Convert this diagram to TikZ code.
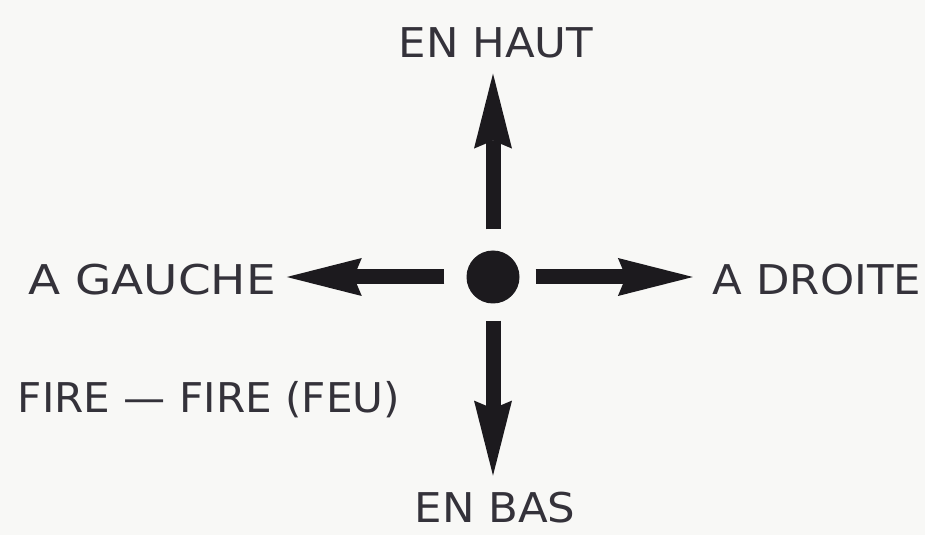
\documentclass[tikz,border=0pt]{standalone}
\usepackage{fontspec}
\setmainfont{DejaVu Sans}
\usepackage{tikz}
\usetikzlibrary{arrows.meta, positioning}

\definecolor{paper}{RGB}{248,248,246}
\definecolor{ink}{RGB}{28,26,30}
\definecolor{txt}{RGB}{52,50,58}

\tikzset{
  lbl/.style={inner sep=0pt, outer sep=0pt, anchor=base, text=txt, xscale=1.06, transform shape,
    font=\fontsize{41bp}{48bp}\selectfont},
  bigarrow/.style={draw=ink, line width=15bp,
    -{Stealth[length=75bp, width=38bp, inset=8bp, line width=0pt]}}
}

\begin{document}
\begin{tikzpicture}[x=1bp, y=-1bp]
                    \path[fill=paper] (0,0) rectangle (925,535);
                    \node[circle, fill=ink, minimum size=53bp, inner sep=0pt] (dot) at (493,277) {};
                    \node[lbl] (haut) at (496,58) {EN HAUT};
                    \node[lbl] (bas) at (495,522) {EN BAS};
                    \node[lbl, xscale=1.08] (gauche) at (152,295) {A GAUCHE};
                    \node[lbl] (droite) at (817,295) {A DROITE};
                    \node[lbl, xscale=0.97] (fire) at (209,412) {FIRE — FIRE (FEU)};
                    \draw[bigarrow, shorten <=21bp, shorten >=15bp] (dot.north) -- (dot |- haut.south);
                    \draw[bigarrow, shorten <=17bp, shorten >=16bp] (dot.south) -- (dot |- bas.north);
                    \draw[bigarrow, shorten <=22bp, shorten >=11bp] (dot.west) -- (dot -| gauche.east);
                    \draw[bigarrow, shorten <=16bp, shorten >=20bp] (dot.east) -- (dot -| droite.west);
                \end{tikzpicture}
\end{document}
